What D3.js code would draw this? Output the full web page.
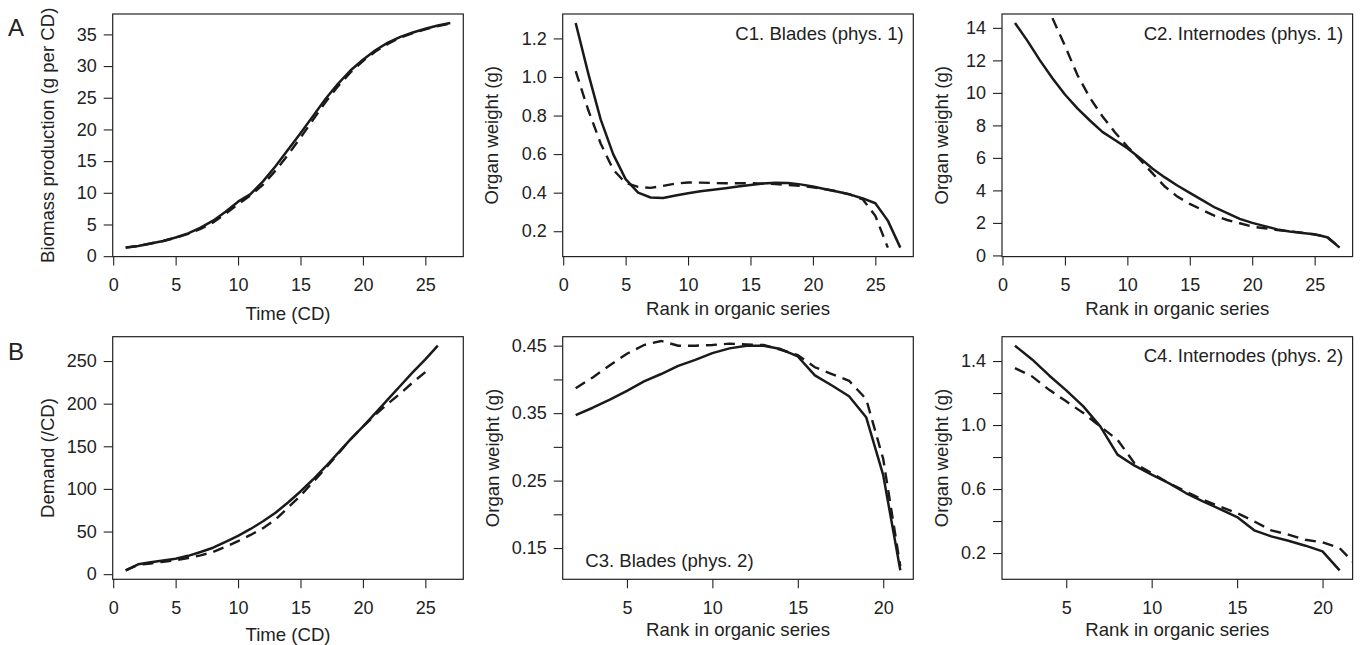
<!DOCTYPE html>
<html>
<head>
<meta charset="utf-8">
<script src="https://cdn.jsdelivr.net/npm/d3@7"></script>
<style>
  body { margin: 0; background: #fff; }
  svg { display: block; }
  text { font-family: "Liberation Sans", Arial, Helvetica, sans-serif; fill: #222; }
</style>
</head>
<body>
<div id="container"></div>
<script>
// --- data ---
// A: biomass production vs time
const timeCD = [1,2,3,4,5,6,7,8,9,10,11,12,13,14,15,16,17,18,19,20,21,22,23,24,25,26,27];
const biomassSolid = [1.35,1.6,2.0,2.4,2.95,3.6,4.5,5.6,7.0,8.6,9.8,11.8,14.2,16.8,19.4,22.1,24.8,27.2,29.3,31.0,32.5,33.7,34.6,35.3,35.9,36.4,36.8];
const biomassDashed = [1.35,1.6,2.0,2.4,2.9,3.5,4.3,5.3,6.7,8.2,9.6,11.3,13.5,16.0,18.7,21.5,24.3,26.8,29.0,30.8,32.3,33.5,34.5,35.2,35.8,36.3,36.7];

// B: demand vs time
const timeDemandSolid = [1,2,3,4,5,6,7,8,9,10,11,12,13,14,15,16,17,18,19,20,21,22,23,24,25,26];
const demandSolid = [4.5,11.5,14,16,18,21.5,26,31,38,45,53,62,72,84,97,111,126,142,158,173,189,205,221,237,252,268];
const timeDemandDashed = [1,2,3,4,5,6,7,8,9,10,11,12,13,14,15,16,17,18,19,20,21,22,23,24,25];
const demandDashed = [4.5,11,12.5,14.5,16.4,19,22,26,32,38.7,46,54,64,78,92,108,124,141,158,173,187,200,212,225,237];

// C1: blades (phys. 1)
const rankP1 = [1,2,3,4,5,6,7,8,9,10,11,12,13,14,15,16,17,18,19,20,21,22,23,24,25,26,27];
const bladesP1Solid = [1.28,1.02,0.78,0.60,0.47,0.40,0.375,0.372,0.385,0.397,0.407,0.415,0.423,0.432,0.44,0.448,0.452,0.45,0.443,0.432,0.418,0.405,0.39,0.37,0.345,0.255,0.115];
const rankP1Dashed = [1,2,3,4,5,6,7,8,9,10,11,12,13,14,15,16,17,18,19,20,21,22,23,24,25,26];
const bladesP1Dashed = [1.03,0.83,0.655,0.52,0.45,0.43,0.425,0.435,0.447,0.453,0.452,0.45,0.449,0.449,0.449,0.447,0.445,0.44,0.435,0.428,0.418,0.406,0.39,0.365,0.28,0.115];

// C2: internodes (phys. 1)
const internodesP1Solid = [14.3,13.2,12.0,10.9,9.9,9.05,8.3,7.6,7.1,6.6,6.0,5.35,4.8,4.3,3.85,3.4,2.95,2.6,2.25,2.0,1.8,1.6,1.47,1.38,1.3,1.12,0.48];
const internodesP1Dashed = [22.0,19.5,17.0,14.6,12.9,11.1,9.7,8.56,7.58,6.7,5.9,5.06,4.24,3.62,3.17,2.8,2.43,2.18,1.98,1.77,1.67,1.56,1.48,1.4,1.28,1.15,0.49];

// C3: blades (phys. 2)
const rankP2 = [2,3,4,5,6,7,8,9,10,11,12,13,14,15,16,17,18,19,20,21];
const bladesP2Solid = [0.347,0.358,0.370,0.383,0.397,0.408,0.420,0.429,0.439,0.446,0.450,0.450,0.445,0.434,0.406,0.391,0.375,0.344,0.258,0.117];
const bladesP2Dashed = [0.387,0.403,0.421,0.438,0.451,0.457,0.450,0.450,0.451,0.453,0.452,0.451,0.444,0.436,0.418,0.408,0.398,0.371,0.282,0.123];

// C4: internodes (phys. 2)
const internodesP2Solid = [1.496,1.41,1.31,1.217,1.117,0.99,0.815,0.746,0.69,0.637,0.575,0.523,0.475,0.425,0.342,0.304,0.277,0.246,0.21,0.092];
const rankP2Dashed = [2,3,4,5,6,7,8,9,10,11,12,13,14,15,16,17,18,19,20,21,22];
const internodesP2Dashed = [1.356,1.304,1.22,1.148,1.075,0.99,0.908,0.76,0.70,0.637,0.585,0.533,0.49,0.45,0.398,0.342,0.315,0.283,0.267,0.231,0.12];

// tick labels
const ticksTime = [0,5,10,15,20,25];
const ticksRankP2 = [5,10,15,20];
const ticksBiomass = [0,5,10,15,20,25,30,35];
const ticksDemand = [0,50,100,150,200,250];
const ticksBladesP1 = [0.2,0.4,0.6,0.8,1.0,1.2];
const ticksInternodesP1 = [0,2,4,6,8,10,12,14];
const ticksBladesP2 = [0.15,0.20,0.25,0.30,0.35,0.40,0.45];
const labelsBladesP2 = [0.15,0.25,0.35,0.45];
const ticksInternodesP2 = [0.2,0.4,0.6,0.8,1.0,1.2,1.4];
const labelsInternodesP2 = [0.2,0.6,1.0,1.4];

// --- drawing ---
const W = 1361, H = 645;
const svg = d3.select("#container").append("svg")
    .attr("width", W).attr("height", H);

// R-style axis range: data extent widened by 4% on each side
function pad4(values) {
    const [lo, hi] = d3.extent(values);
    const d = (hi - lo) * 0.04;
    return [lo - d, hi + d];
}

const colLeft = [112.7, 562.7, 1002];
const rowTop = [14, 336.7];
const boxW = 350.6, boxH = 242.6;

const panels = [
    {col: 0, row: 0, letter: "A", xs: timeCD, ys: biomassSolid, xd: timeCD, yd: biomassDashed,
     xDom: timeCD, xTicks: ticksTime, yTicks: ticksBiomass, fmt: d3.format("d"),
     ylab: "Biomass production (g per CD)", ylabOff: 59, xlab: "Time (CD)", xlabOff: 63},
    {col: 1, row: 0, xs: rankP1, ys: bladesP1Solid, xd: rankP1Dashed, yd: bladesP1Dashed,
     xDom: rankP1, xTicks: ticksTime, yTicks: ticksBladesP1, fmt: d3.format(".1f"),
     ylab: "Organ weight (g)", ylabOff: 65, xlab: "Rank in organic series", xlabOff: 58,
     note: "C1. Blades (phys. 1)", notePos: "topright"},
    {col: 2, row: 0, xs: rankP1, ys: internodesP1Solid, xd: rankP1, yd: internodesP1Dashed,
     xDom: rankP1, xTicks: ticksTime, yTicks: ticksInternodesP1, fmt: d3.format("d"),
     ylab: "Organ weight (g)", ylabOff: 54, xlab: "Rank in organic series", xlabOff: 58,
     note: "C2. Internodes (phys. 1)", notePos: "topright"},
    {col: 0, row: 1, letter: "B", xs: timeDemandSolid, ys: demandSolid, xd: timeDemandDashed, yd: demandDashed,
     xDom: timeCD, xTicks: ticksTime, yTicks: ticksDemand, fmt: d3.format("d"),
     ylab: "Demand (/CD)", ylabOff: 59, xlab: "Time (CD)", xlabOff: 62},
    {col: 1, row: 1, xs: rankP2, ys: bladesP2Solid, xd: rankP2, yd: bladesP2Dashed,
     xDom: rankP2, xTicks: ticksRankP2, yTicks: ticksBladesP2, yLabels: labelsBladesP2, fmt: d3.format(".2f"),
     ylab: "Organ weight (g)", ylabOff: 64, xlab: "Rank in organic series", xlabOff: 57,
     note: "C3. Blades (phys. 2)", notePos: "bottomleft"},
    {col: 2, row: 1, xs: rankP2, ys: internodesP2Solid, xd: rankP2Dashed, yd: internodesP2Dashed,
     xDom: rankP2, xTicks: ticksRankP2, yTicks: ticksInternodesP2, yLabels: labelsInternodesP2, fmt: d3.format(".1f"),
     ylab: "Organ weight (g)", ylabOff: 54, xlab: "Rank in organic series", xlabOff: 57,
     note: "C4. Internodes (phys. 2)", notePos: "topright"}
];

panels.forEach((p, i) => {
    const left = colLeft[p.col], top = rowTop[p.row];
    const g = svg.append("g").attr("transform", `translate(${left},${top})`);

    const x = d3.scaleLinear().domain(pad4(p.xDom)).range([0, boxW]);
    const y = d3.scaleLinear().domain(pad4(p.ys)).range([boxH, 0]);

    // clip lines to the plot region
    const clipId = "clip" + i;
    g.append("clipPath").attr("id", clipId)
        .append("rect").attr("width", boxW).attr("height", boxH);

    const labelSet = p.yLabels || p.yTicks;
    const xAxis = d3.axisBottom(x).tickValues(p.xTicks).tickSize(9).tickPadding(13)
        .tickFormat(d3.format("d"));
    const yAxis = d3.axisLeft(y).tickValues(p.yTicks).tickSize(9).tickPadding(7)
        .tickFormat(d => labelSet.some(v => Math.abs(v - d) < 1e-9) ? p.fmt(d) : "");

    const gx = g.append("g").attr("transform", `translate(0,${boxH})`).call(xAxis);
    const gy = g.append("g").call(yAxis);
    [gx, gy].forEach(a => {
        a.select(".domain").remove();
        a.selectAll("line").attr("stroke", "#222").attr("stroke-width", 1.1);
        a.selectAll("text").style("font-size", "18px").attr("fill", "#222");
    });

    const line = d3.line().x(d => x(d[0])).y(d => y(d[1]));
    const plot = g.append("g").attr("clip-path", `url(#${clipId})`);
    plot.append("path")
        .datum(d3.zip(p.xd, p.yd))
        .attr("d", line)
        .attr("fill", "none").attr("stroke", "#1a1a1a")
        .attr("stroke-width", 2.4).attr("stroke-dasharray", "11,7");
    plot.append("path")
        .datum(d3.zip(p.xs, p.ys))
        .attr("d", line)
        .attr("fill", "none").attr("stroke", "#1a1a1a")
        .attr("stroke-width", 2.5).attr("stroke-linejoin", "round");

    // box
    g.append("rect").attr("width", boxW).attr("height", boxH)
        .attr("fill", "none").attr("stroke", "#222").attr("stroke-width", 1.2);

    // axis titles
    g.append("text")
        .attr("x", boxW / 2).attr("y", boxH + p.xlabOff)
        .attr("text-anchor", "middle").style("font-size", "18.6px")
        .text(p.xlab);
    g.append("text")
        .attr("transform", `translate(${-p.ylabOff},${boxH / 2}) rotate(-90)`)
        .attr("text-anchor", "middle").style("font-size", "18.6px")
        .text(p.ylab);

    if (p.note) {
        const tr = p.notePos === "topright";
        g.append("text")
            .attr("x", tr ? boxW - 9.5 : 22.5)
            .attr("y", tr ? 25.5 : boxH - 12.6)
            .attr("text-anchor", tr ? "end" : "start")
            .style("font-size", "18.6px")
            .text(p.note);
    }
    if (p.letter) {
        svg.append("text")
            .attr("x", 8).attr("y", top + (p.row === 0 ? 22 : 23.3))
            .style("font-size", "24px")
            .text(p.letter);
    }
});
</script>
</body>
</html>
